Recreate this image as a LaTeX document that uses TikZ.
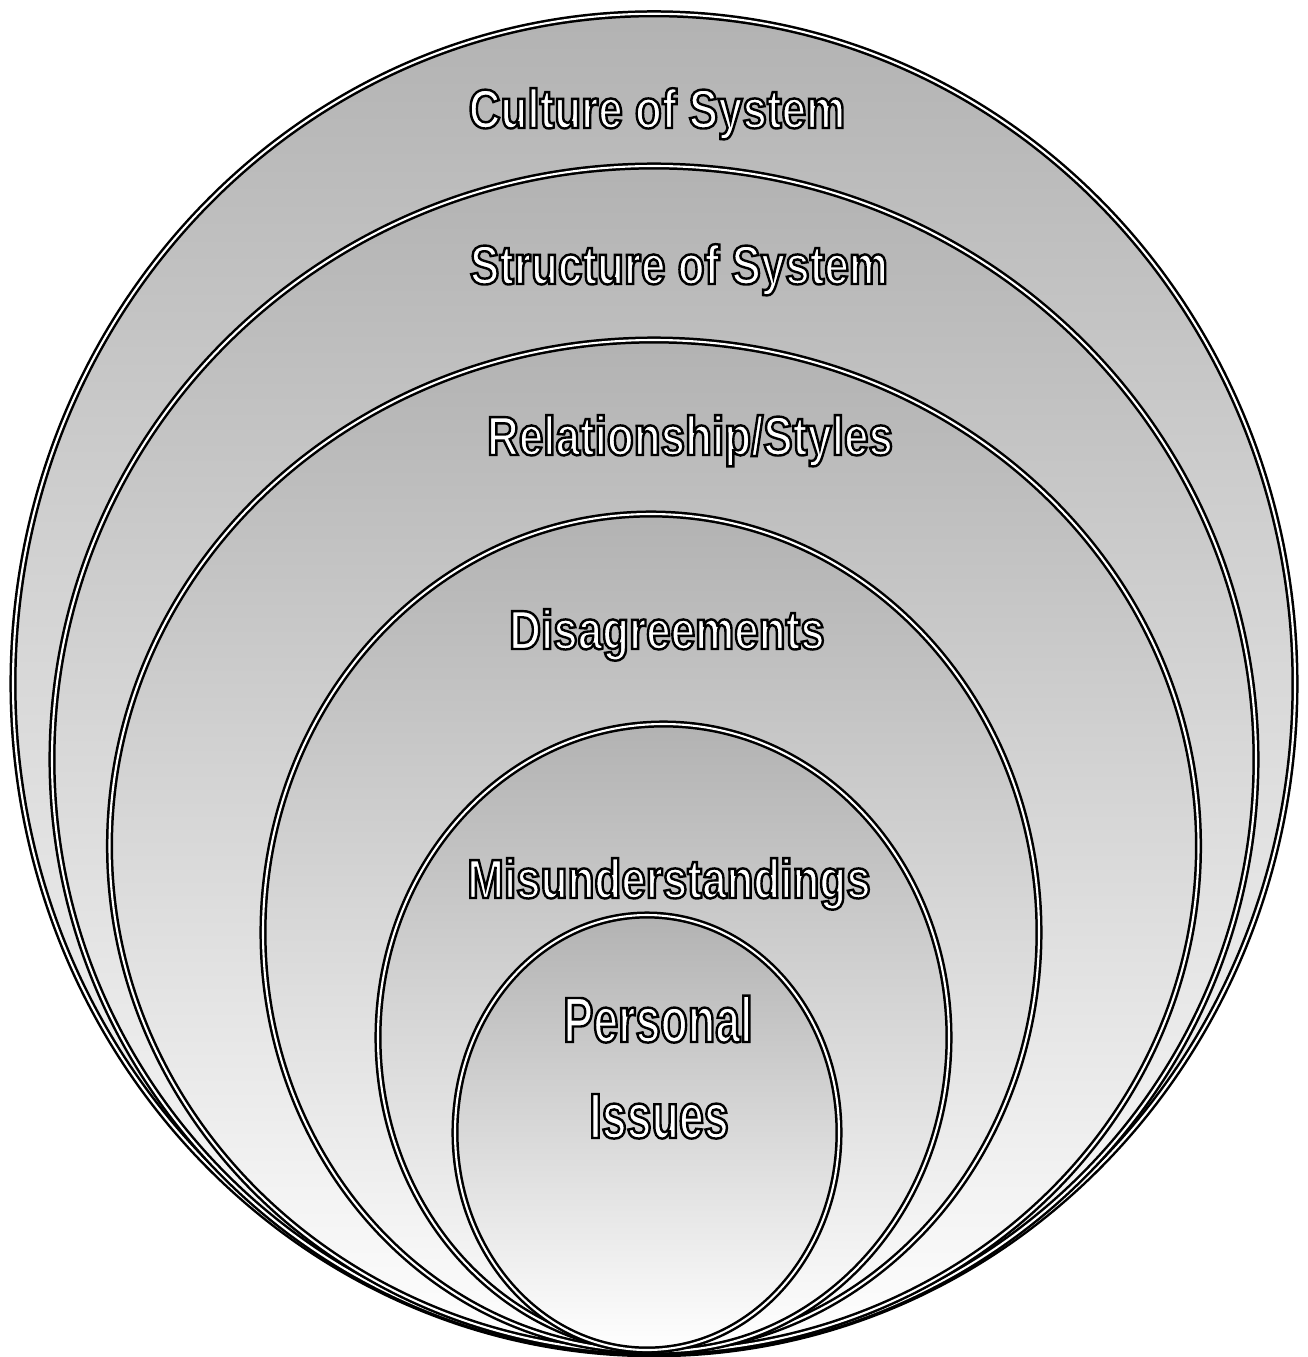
\documentclass[tikz,border=0pt]{standalone}
\usepackage{fontspec}
\newfontfamily\lblfont{Liberation Sans}[UprightFont=* Bold, FakeStretch=0.8]
\newfontfamily\biglblfont{Liberation Sans}[UprightFont=* Bold, FakeStretch=0.7]
\newcommand\outl[1]{\special{pdf:code q 2 Tr 1.2 w 0 0 0 RG 1 1 1 rg}#1\special{pdf:code Q}}
\tikzset{
  ring/.style={top color=black!30, bottom color=white, draw=black,
    line width=1.25pt, double=white, double distance=1.05pt},
  lbl/.style={anchor=base, inner sep=0pt,
    font=\lblfont\fontsize{27.5}{30}\selectfont},
  biglbl/.style={anchor=base, inner sep=0pt,
    font=\biglblfont\fontsize{32}{34}\selectfont}
}
\begin{document}
\begin{tikzpicture}[x=0.5pt,y=0.5pt]
\useasboundingbox (0,0) rectangle (1308,-1357);
\path[ring] (654,-683.75) ellipse [x radius=641, y radius=670];
\path[ring] (654,-759.5) ellipse [x radius=602, y radius=593.5];
\path[ring] (654,-846) ellipse [x radius=544.5, y radius=506];
\path[ring] (651,-932.5) ellipse [x radius=388, y radius=418.5];
\path[ring] (663.5,-1037.5) ellipse [x radius=285.5, y radius=313.5];
\path[ring] (647,-1132.5) ellipse [x radius=192, y radius=217.5];
\node[lbl] (culture) at (657,-128) {\outl{Culture of System}};
\node[lbl] (structure) at (679,-284) {\outl{Structure of System}};
\node[lbl] (relation) at (690,-455) {\outl{Relationship/Styles}};
\node[lbl] (disagree) at (667,-649) {\outl{Disagreements}};
\node[lbl] (misunder) at (669,-898) {\outl{Misunderstandings}};
\node[biglbl] (personal) at (658,-1042) {\outl{Personal}};
\node[biglbl] (issues) at (659,-1138) {\outl{Issues}};
\end{tikzpicture}
\end{document}
